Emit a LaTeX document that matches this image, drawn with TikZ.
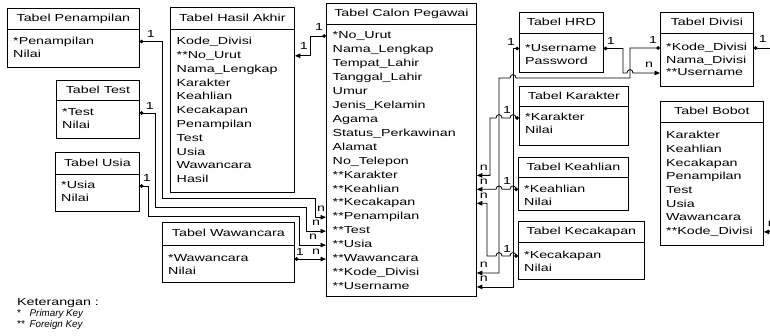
\documentclass[tikz,border=0pt]{standalone}
\usepackage{fontspec}
\setmainfont{Liberation Sans}[FakeStretch=1.4]
\newfontfamily\polos{Liberation Sans}
\usetikzlibrary{arrows.meta, positioning, calc}
\newcommand{\huruf}{\fontsize{10.2}{12}\selectfont}
\newcommand{\lompatki}[2]{-- ($(#1 |- #2)+(3,0)$) .. controls +(0,-4.5) and +(0,-4.5) .. ($(#1 |- #2)+(-3,0)$)}
\newcommand{\lompatka}[2]{-- ($(#1 |- #2)+(-3,0)$) .. controls +(0,-4.5) and +(0,-4.5) .. ($(#1 |- #2)+(3,0)$)}

\begin{document}
\begin{tikzpicture}[x=1pt, y=-1pt,
    judul/.style={draw, line width=0.8pt, anchor=north west, inner sep=0pt,
                  text height=7.4pt, text depth=2pt, font=\huruf},
    isi/.style={draw, line width=0.8pt, anchor=north west, inner sep=0pt},
    baris/.style={anchor=west, inner sep=0pt, text height=7.4pt, text depth=2pt, font=\huruf},
    kard/.style={inner sep=0pt, font=\huruf},
    rel/.style={line width=0.8pt, arrows={Circle[length=3.6pt]-Triangle[length=5.5pt,width=4.5pt]}}
]
    \useasboundingbox (0,0) rectangle (770,336);
    \clip (0,0) rectangle (770,336);

    % tabel kiri
    \node[judul, minimum width=132, minimum height=21] (penH) at (7,8) {Tabel Penampilan};
    \node[isi, minimum width=132, minimum height=38] (penB) at (7,29) {};
    \foreach \teks [count=\i] in {*Penampilan, Nilai}
        \node[baris] (pen\i) at (13, 28.5+13*\i) {\teks};

    \node[judul, minimum width=83, minimum height=20] (testH) at (56,80) {Tabel Test};
    \node[isi, minimum width=83, minimum height=38] (testB) at (56,100) {};
    \foreach \teks [count=\i] in {*Test, Nilai}
        \node[baris] (test\i) at (62, 100+13*\i) {\teks};

    \node[judul, minimum width=84, minimum height=22] (usiaH) at (55,152) {Tabel Usia};
    \node[isi, minimum width=84, minimum height=37] (usiaB) at (55,174) {};
    \foreach \teks [count=\i] in {*Usia, Nilai}
        \node[baris] (usia\i) at (61, 173+13*\i) {\teks};

    \node[judul, minimum width=124, minimum height=22] (hasH) at (170,7) {Tabel Hasil Akhir};
    \node[isi, minimum width=124, minimum height=163] (hasB) at (170,29) {};
    \foreach \teks [count=\i] in {Kode\_Divisi, **No\_Urut, Nama\_Lengkap, Karakter, Keahlian,
        Kecakapan, Penampilan, Test, Usia, Wawancara, Hasil}
        \node[baris] (has\i) at (176.5, 28.2+13.8*\i) {\teks};

    \node[judul, minimum width=132, minimum height=23] (wawH) at (162,222) {Tabel Wawancara};
    \node[isi, minimum width=132, minimum height=37] (wawB) at (162,245) {};
    \foreach \teks [count=\i] in {*Wawancara, Nilai}
        \node[baris] (waw\i) at (168, 246.04+13*\i) {\teks};

    % tabel tengah
    \node[judul, minimum width=150, minimum height=21] (cpH) at (326,3) {Tabel Calon Pegawai};
    \node[isi, minimum width=150, minimum height=272] (cpB) at (326,24) {};
    \foreach \teks [count=\i from 0] in {*No\_Urut, Nama\_Lengkap, Tempat\_Lahir, Tanggal\_Lahir,
        Umur, Jenis\_Kelamin, Agama, Status\_Perkawinan, Alamat, No\_Telepon, **Karakter,
        **Keahlian, **Kecakapan, **Penampilan, **Test, **Usia, **Wawancara, **Kode\_Divisi, **Username}
        \node[baris] (cp\i) at (332.5, 36+13.94*\i) {\teks};

    % tabel kanan
    \node[judul, minimum width=84, minimum height=21] (hrdH) at (519,12) {Tabel HRD};
    \node[isi, minimum width=84, minimum height=39] (hrdB) at (519,33) {};
    \foreach \teks [count=\i] in {*Username, Password}
        \node[baris] (hrd\i) at (525, 35.5+13*\i) {\teks};

    \node[judul, minimum width=93, minimum height=21] (divH) at (660,12) {Tabel Divisi};
    \node[isi, minimum width=93, minimum height=53] (divB) at (660,33) {};
    \foreach \teks [count=\i] in {*Kode\_Divisi, Nama\_Divisi, **Username}
        \node[baris] (div\i) at (666, 35.5+12.5*\i) {\teks};

    \node[judul, minimum width=109, minimum height=20] (karH) at (519,86) {Tabel Karakter};
    \node[isi, minimum width=109, minimum height=39] (karB) at (519,106) {};
    \foreach \teks [count=\i] in {*Karakter, Nilai}
        \node[baris] (kar\i) at (525, 105+13*\i) {\teks};

    \node[judul, minimum width=110, minimum height=20] (keaH) at (518,157) {Tabel Keahlian};
    \node[isi, minimum width=110, minimum height=33] (keaB) at (518,177) {};
    \foreach \teks [count=\i] in {*Keahlian, Nilai}
        \node[baris] (kea\i) at (524, 176.34+13*\i) {\teks};

    \node[judul, minimum width=126, minimum height=21] (kecH) at (518,221) {Tabel Kecakapan};
    \node[isi, minimum width=126, minimum height=37] (kecB) at (518,242) {};
    \foreach \teks [count=\i] in {*Kecakapan, Nilai}
        \node[baris] (kec\i) at (524, 243+13*\i) {\teks};

    \node[judul, minimum width=103, minimum height=21] (bobH) at (660,101) {Tabel Bobot};
    \node[isi, minimum width=103, minimum height=123] (bobB) at (660,122) {};
    \foreach \teks [count=\i] in {Karakter, Keahlian, Kecakapan, Penampilan, Test, Usia,
        Wawancara, **Kode\_Divisi}
        \node[baris] (bob\i) at (666, 122.3+13.7*\i) {\teks};

    % jalur
    \coordinate (busHRD) at (513,0);
    \coordinate (busDiv) at (499,0);
    \coordinate (busKode) at (630,0);
    \coordinate (jalurDiv) at (630,78);

    \draw[rel] (penB.east |- pen1) node[kard, xshift=11, yshift=8] {1} -| (162,198)
        -| (315,0 |- cp13) -- (cpB.west |- cp13) node[kard, xshift=-5, yshift=8] {n};
    \draw[rel] (testB.east |- test1) node[kard, xshift=10, yshift=7] {1} -| (155,207)
        -| (306,0 |- cp14) -- (cpB.west |- cp14) node[kard, xshift=-10, yshift=8] {n};
    \draw[rel] (usiaB.east |- usia1) node[kard, xshift=7, yshift=8] {1} -| (148,216)
        -| (299,0 |- cp15) -- (cpB.west |- cp15) node[kard, xshift=-13, yshift=8] {n};
    \draw[rel] (wawB.east |- waw1) node[kard, xshift=5, yshift=7] {1}
        -- (cpB.west |- waw1) node[kard, xshift=-10, yshift=7] {n};
    \draw[rel] (cpB.west |- cp0) node[kard, xshift=-7, yshift=9] {1}
        -| (310,0 |- has2) -- (hasB.east |- has2) node[kard, xshift=9, yshift=10] {1};

    \draw[rel] (hrdB.west |- hrd1) node[kard, xshift=-8, yshift=7] {1}
        -| (busHRD |- cp18) -- (cpB.east |- cp18) node[kard, xshift=7, yshift=8] {n};
    \draw[rel] (hrdB.east |- hrd1) node[kard, xshift=7, yshift=8] {1} -| (623,0 |- div3)
        \lompatka{busKode}{div3} -- (divB.west |- div3) node[kard, xshift=-11, yshift=8] {n};
    \draw[rel] (divB.west |- div1) node[kard, xshift=-7, yshift=8] {1} -| (jalurDiv)
        \lompatki{busHRD}{jalurDiv} -- (busDiv |- jalurDiv)
        |- (cpB.east |- cp17) node[kard, xshift=7, yshift=8] {n};
    \draw[rel] (karB.west |- kar1) node[kard, xshift=-12, yshift=8] {1}
        \lompatki{busHRD}{kar1} \lompatki{busDiv}{kar1}
        -| (490,0 |- cp10) -- (cpB.east |- cp10) node[kard, xshift=7, yshift=8] {n};
    \draw[rel] (keaB.west |- kea1) node[kard, xshift=-11, yshift=8] {1}
        \lompatki{busHRD}{kea1} \lompatki{busDiv}{kea1}
        -- (cpB.east |- kea1) node[kard, xshift=7, yshift=8] {n};
    \draw[rel] (kecB.west |- kec1) node[kard, xshift=-11, yshift=7] {1}
        \lompatki{busHRD}{kec1} \lompatki{busDiv}{kec1}
        -| (487,0 |- cp12) -- (cpB.east |- cp12) node[kard, xshift=7, yshift=8] {n};
    \draw[rel] (divB.east |- div1) node[kard, xshift=9, yshift=9] {1}
        -| (775,0 |- bob8) -- (bobB.east |- bob8) node[kard, xshift=8, yshift=8] {n};

    % keterangan
    \node[baris] (ket) at (17,303) {Keterangan :};
    \node[baris, font=\polos\huruf] (ketpk) at (17,314) {*};
    \node[baris, font=\polos\itshape\fontsize{9.8}{11}\selectfont] (ketpkt) at (29.5,314) {Primary Key};
    \node[baris, font=\polos\huruf] (ketfk) at (17,324.5) {**};
    \node[baris, font=\polos\itshape\fontsize{9.8}{11}\selectfont] (ketfkt) at (29.5,324.5) {Foreign Key};
\end{tikzpicture}
\end{document}
